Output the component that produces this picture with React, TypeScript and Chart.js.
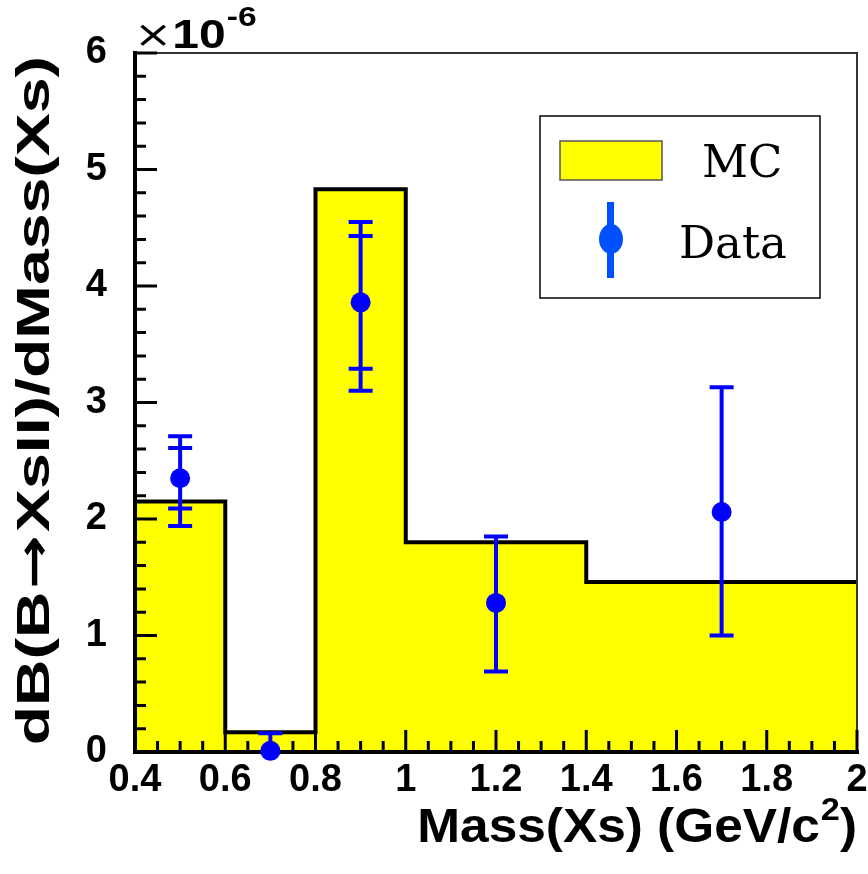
import React, { useEffect, useRef } from 'react';
import { Chart, registerables } from 'chart.js';
Chart.register(...registerables);

// ---- data ----
const binEdges = [0.4, 0.6, 0.8, 1.0, 1.4, 2.0];
const mcValues = [2.15, 0.17, 4.83, 1.8, 1.46];
const dataX = [0.5, 0.7, 0.9, 1.2, 1.7];
const dataY = [2.35, 0.01, 3.86, 1.28, 2.06];
const statHigh = [2.61, 0.16, 4.43, 1.85, 3.13];
const statLow = [2.09, -0.14, 3.29, 0.69, 1.0];
const totalHigh = [2.71, 0.16, 4.55, 1.85, 3.13];
const totalLow = [1.94, -0.14, 3.1, 0.69, 1.0];
const xTicks = [0.4, 0.6, 0.8, 1, 1.2, 1.4, 1.6, 1.8, 2];
const yTicks = [0, 1, 2, 3, 4, 5, 6];
const xTitle = 'Mass(Xs) (GeV/c';
const xTitleSup = '2';
const xTitleEnd = ')';
const yTitleParts = ['dB(B', '\u2192', 'XsII)/dMass(Xs)'];
const exponentBase = '10';
const exponentPower = '-6';
const legendLabels = ['MC', 'Data'];

const SANS = '"Liberation Sans", Arial, sans-serif';
const SERIF = '"DejaVu Serif", serif';
const DATA_BLUE = '#0000ff';
const LEGEND_BLUE = '#0050ff';
const MC_YELLOW = '#ffff00';

const decorPlugin = {
  id: 'rootDecor',
  afterDatasetDraw(chart: any, args: any) {
    if (args.meta.label !== 'MC') return;
    const ctx = chart.ctx;
    const { left, right, top, bottom } = chart.chartArea;
    const xs = chart.scales.x;
    const ys = chart.scales.y;
    ctx.save();
    // frame
    ctx.strokeStyle = '#333';
    ctx.lineWidth = 2;
    ctx.beginPath();
    ctx.moveTo(left, top);
    ctx.lineTo(right, top);
    ctx.lineTo(right, bottom);
    ctx.stroke();
    // ticks
    ctx.strokeStyle = '#000';
    ctx.lineWidth = 3;
    ctx.beginPath();
    for (let i = 0; i <= 30; i++) {
      const v = i * 0.2;
      const py = ys.getPixelForValue(v);
      const len = i % 5 === 0 ? 22 : 11;
      ctx.moveTo(left, py);
      ctx.lineTo(left + len, py);
    }
    for (let i = 8; i <= 40; i++) {
      const v = i * 0.05;
      const px = xs.getPixelForValue(v);
      const len = i % 4 === 0 ? 22 : 11;
      ctx.moveTo(px, bottom);
      ctx.lineTo(px, bottom - len);
    }
    ctx.stroke();
    // axes
    ctx.lineWidth = 4;
    ctx.lineCap = 'square';
    ctx.beginPath();
    ctx.moveTo(left, top);
    ctx.lineTo(left, bottom);
    ctx.lineTo(right, bottom);
    ctx.stroke();
    ctx.restore();

    // error bars
    ctx.save();
    ctx.beginPath();
    ctx.rect(left, top, right - left, bottom - top + 2);
    ctx.clip();
    ctx.strokeStyle = DATA_BLUE;
    ctx.lineWidth = 4;
    ctx.lineCap = 'butt';
    const cap = 12;
    ctx.beginPath();
    for (let i = 0; i < dataX.length; i++) {
      const px = xs.getPixelForValue(dataX[i]);
      const hi = ys.getPixelForValue(totalHigh[i]);
      const lo = ys.getPixelForValue(totalLow[i]);
      ctx.moveTo(px, hi);
      ctx.lineTo(px, lo);
      const caps = [totalHigh[i], totalLow[i], statHigh[i], statLow[i]];
      for (const c of caps) {
        const cy = ys.getPixelForValue(c);
        ctx.moveTo(px - cap, cy);
        ctx.lineTo(px + cap, cy);
      }
    }
    ctx.stroke();
    ctx.restore();
  },
  afterDraw(chart: any) {
    const ctx = chart.ctx;
    const { left, right, top } = chart.chartArea;
    ctx.save();
    ctx.fillStyle = '#000';
    ctx.textBaseline = 'alphabetic';
    ctx.textAlign = 'left';

    // x title (right-aligned at frame edge)
    const xStretch = 1.07;
    const fMain = `bold 48px ${SANS}`;
    const fSup = `bold 32px ${SANS}`;
    ctx.font = fMain;
    const wEnd = ctx.measureText(xTitleEnd).width;
    const wMain = ctx.measureText(xTitle).width;
    ctx.font = fSup;
    const wSup = ctx.measureText(xTitleSup).width;
    const total = wMain + wSup + 1 + wEnd;
    ctx.save();
    ctx.translate(right - total * xStretch, 842);
    ctx.scale(xStretch, 1);
    ctx.font = fMain;
    ctx.fillText(xTitle, 0, 0);
    ctx.font = fSup;
    ctx.fillText(xTitleSup, wMain + 1, -22);
    ctx.font = fMain;
    ctx.fillText(xTitleEnd, wMain + wSup + 1, 0);
    ctx.restore();

    // y title (right-aligned at top of frame)
    ctx.save();
    ctx.translate(49, top + 3);
    ctx.rotate(-Math.PI / 2);
    ctx.scale(1.4, 1);
    const fTitle = `bold 46px ${SANS}`;
    const fArrow = `bold 46px "DejaVu Sans", sans-serif`;
    ctx.font = fTitle;
    const w0 = ctx.measureText(yTitleParts[0]).width;
    const w2 = ctx.measureText(yTitleParts[2]).width;
    ctx.font = fArrow;
    const w1 = ctx.measureText(yTitleParts[1]).width;
    let tx = -(w0 + w1 + w2 + 4);
    ctx.font = fTitle;
    ctx.fillText(yTitleParts[0], tx, 0);
    tx += w0 + 2;
    ctx.font = fArrow;
    ctx.fillText(yTitleParts[1], tx, 0);
    tx += w1 + 2;
    ctx.font = fTitle;
    ctx.fillText(yTitleParts[2], tx, 0);
    ctx.restore();

    // exponent
    ctx.save();
    ctx.translate(left - 1, top - 5);
    ctx.scale(1.2, 1);
    ctx.font = `38px "DejaVu Sans", sans-serif`;
    ctx.fillText('\u00d7', 0, -1);
    const wx = ctx.measureText('\u00d7').width;
    ctx.font = `bold 40px ${SANS}`;
    ctx.fillText(exponentBase, wx, 0);
    const w10 = ctx.measureText(exponentBase).width;
    ctx.font = `bold 28px ${SANS}`;
    ctx.fillText(exponentPower, wx + w10 + 1, -22);
    ctx.restore();

    // legend
    const lx = 540, ly = 116, lw = 280, lh = 182;
    ctx.fillStyle = '#fff';
    ctx.fillRect(lx, ly, lw, lh);
    ctx.strokeStyle = '#000';
    ctx.lineWidth = 1.5;
    ctx.strokeRect(lx, ly, lw, lh);
    ctx.fillStyle = MC_YELLOW;
    ctx.fillRect(560, 141, 102, 39);
    ctx.strokeStyle = '#555';
    ctx.lineWidth = 1.5;
    ctx.strokeRect(560, 141, 102, 39);
    ctx.fillStyle = LEGEND_BLUE;
    ctx.fillRect(607, 202, 7, 76);
    ctx.beginPath();
    ctx.ellipse(611, 239, 12, 15, 0, 0, Math.PI * 2);
    ctx.fill();
    ctx.fillStyle = '#000';
    ctx.font = `45px ${SERIF}`;
    ctx.fillText(legendLabels[0], 702, 177);
    ctx.fillText(legendLabels[1], 679, 258);
    ctx.restore();
  },
};

export default function App() {
  const ref = useRef<HTMLCanvasElement>(null);
  useEffect(() => {
    document.body.style.margin = '0';
    const histPoints = binEdges.map((x, i) => ({ x, y: mcValues[Math.min(i, mcValues.length - 1)] }));
    const points = dataX.map((x, i) => ({ x, y: dataY[i] }));
    const tickFont = { family: SANS, weight: 'bold' as const, size: 38 };
    const chart = new Chart(ref.current!, {
      type: 'scatter',
      data: {
        datasets: [
          {
            label: 'Data',
            data: points,
            pointRadius: 10,
            pointHoverRadius: 10,
            backgroundColor: DATA_BLUE,
            borderWidth: 0,
            showLine: false,
            clip: false as any,
            order: 1,
          },
          {
            type: 'line' as any,
            label: 'MC',
            data: histPoints,
            stepped: true,
            fill: 'origin',
            backgroundColor: MC_YELLOW,
            borderColor: '#000',
            borderWidth: 4,
            borderJoinStyle: 'miter',
            pointRadius: 0,
            showLine: true,
            order: 2,
          } as any,
        ],
      },
      options: {
        animation: false,
        responsive: true,
        maintainAspectRatio: false,
        layout: { padding: { top: 53, right: 11, left: 0, bottom: 0 } },
        plugins: { legend: { display: false }, tooltip: { enabled: false } },
        scales: {
          x: {
            type: 'linear',
            min: 0.4,
            max: 2,
            afterFit: (s: any) => { s.height = 122; s.paddingLeft = 0; s.paddingRight = 0; },
            afterBuildTicks: (s: any) => { s.ticks = xTicks.map((v) => ({ value: v })); },
            ticks: {
              autoSkip: false,
              maxRotation: 0,
              padding: 6,
              color: '#000',
              font: tickFont,
              callback: (v: any) => String(Number(Number(v).toFixed(2))),
            },
            grid: { display: false, drawTicks: false },
            border: { display: false },
          },
          y: {
            type: 'linear',
            min: 0,
            max: 6,
            afterFit: (s: any) => { s.width = 135; s.paddingTop = 0; s.paddingBottom = 0; },
            afterBuildTicks: (s: any) => { s.ticks = yTicks.map((v) => ({ value: v })); },
            ticks: {
              autoSkip: false,
              padding: 28,
              color: '#000',
              font: tickFont,
              callback: (v: any) => String(Number(v)),
            },
            grid: { display: false, drawTicks: false },
            border: { display: false },
          },
        },
      },
      plugins: [decorPlugin],
    });
    return () => chart.destroy();
  }, []);
  return (
    <div style={{ position: 'relative', width: 868, height: 874 }}>
      <canvas ref={ref} />
    </div>
  );
}
